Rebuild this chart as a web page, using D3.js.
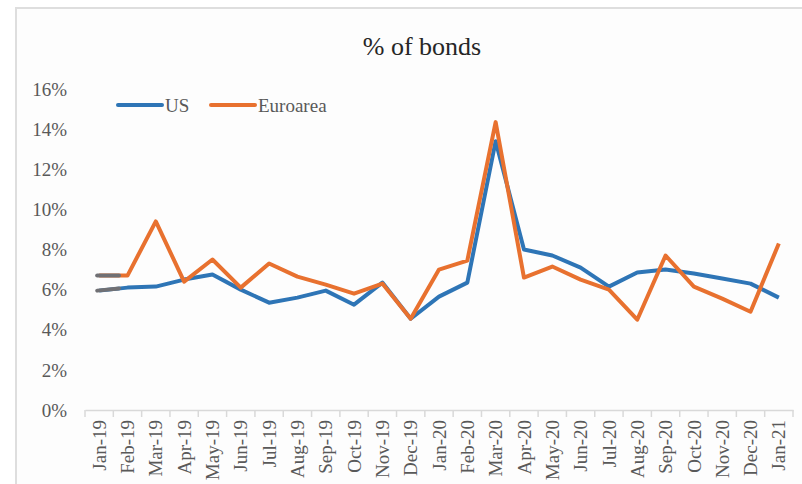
<!DOCTYPE html>
<html>
<head>
<meta charset="utf-8">
<script src="https://cdn.jsdelivr.net/npm/d3@7"></script>
<style>
  body { margin: 0; background: #ffffff; }
  svg text { font-family: "Liberation Serif", "Times New Roman", serif; fill: #595959; }
</style>
</head>
<body>
<div id="chart"></div>
<script>
// months on the x axis
const months = ["Jan-19", "Feb-19", "Mar-19", "Apr-19", "May-19", "Jun-19", "Jul-19", "Aug-19",
    "Sep-19", "Oct-19", "Nov-19", "Dec-19", "Jan-20", "Feb-20", "Mar-20", "Apr-20", "May-20",
    "Jun-20", "Jul-20", "Aug-20", "Sep-20", "Oct-20", "Nov-20", "Dec-20", "Jan-21"];

// % of bonds
const usValues = [5.95, 6.1, 6.15, 6.5, 6.75, 6.0, 5.35, 5.6, 5.95, 5.25, 6.35, 4.55, 5.65,
    6.35, 13.4, 8.0, 7.7, 7.1, 6.15, 6.85, 7.0, 6.8, 6.55, 6.3, 5.6];
const euroValues = [6.7, 6.7, 9.4, 6.4, 7.5, 6.1, 7.3, 6.65, 6.25, 5.8, 6.3, 4.55, 7.0,
    7.45, 14.35, 6.6, 7.15, 6.5, 6.0, 4.5, 7.7, 6.15, 5.55, 4.9, 8.3];

const yTicks = [0, 2, 4, 6, 8, 10, 12, 14, 16];

const series = [
    {name: "US", values: usValues, color: "#2e75b6"},
    {name: "Euroarea", values: euroValues, color: "#e8712f"}
];

const W = 802, H = 484;
const svg = d3.select("#chart").append("svg")
    .attr("width", W)
    .attr("height", H);

// frame of the screenshot
svg.append("rect")
    .attr("x", 16).attr("y", 8)
    .attr("width", W - 14).attr("height", H)
    .attr("fill", "#fdfdfd")
    .attr("stroke", "#dedede")
    .attr("stroke-width", 2);

const xBand = d3.scaleBand()
    .domain(months)
    .range([85, 793]);
const x = d => xBand(d) + xBand.bandwidth() / 2;

const y = d3.scaleLinear()
    .domain([0, 16])
    .range([410, 89]);

// title
svg.append("text")
    .attr("x", 422)
    .attr("y", 55)
    .attr("text-anchor", "middle")
    .attr("font-size", "26px")
    .style("fill", "#262626")
    .text("% of bonds");

// y axis labels (no axis line)
svg.append("g")
    .selectAll("text")
    .data(yTicks)
    .enter()
    .append("text")
    .attr("x", 67)
    .attr("y", d => y(d))
    .attr("dy", "0.35em")
    .attr("text-anchor", "end")
    .attr("font-size", "19px")
    .text(d => d + "%");

// x axis
const xAxis = svg.append("g")
    .attr("transform", "translate(0,410)")
    .call(d3.axisBottom(xBand).tickSize(0).tickSizeOuter(0));

xAxis.select(".domain")
    .attr("stroke", "#d9d9d9")
    .attr("stroke-width", 1.5);

xAxis.selectAll(".tick text")
    .attr("transform", "rotate(-90)")
    .attr("x", -10)
    .attr("y", 0)
    .attr("dy", "0.35em")
    .attr("text-anchor", "end")
    .attr("font-size", "19px")
    .style("font-family", "'Liberation Serif', 'Times New Roman', serif")
    .attr("fill", "#595959");

// tick marks between categories
const boundaries = months.map(m => xBand(m)).concat([xBand.range()[1]]);
xAxis.selectAll(".between")
    .data(boundaries)
    .enter()
    .append("line")
    .attr("class", "between")
    .attr("x1", d => d).attr("x2", d => d)
    .attr("y1", 0).attr("y2", 7)
    .attr("stroke", "#d9d9d9")
    .attr("stroke-width", 1.5);

const line = d3.line()
    .x((d, i) => x(months[i]))
    .y(d => y(d));

series.forEach(s => {
    svg.append("path")
        .datum(s.values)
        .attr("d", line)
        .attr("fill", "none")
        .attr("stroke", s.color)
        .attr("stroke-width", 4)
        .attr("stroke-linejoin", "round");
});

// grey piece at the start of both lines
const step = xBand.bandwidth();
series.forEach(s => {
    const x0 = x(months[0]) - 2, x1 = x(months[0]) + step * 0.7;
    const v0 = s.values[0], v1 = s.values[0] + (s.values[1] - s.values[0]) * 0.7;
    svg.append("line")
        .attr("x1", x0).attr("y1", y(v0))
        .attr("x2", x1).attr("y2", y(v1))
        .attr("stroke", "#707074")
        .attr("stroke-width", 4)
        .attr("stroke-linecap", "round");
});

// legend
const legend = svg.append("g").attr("transform", "translate(118,105)");
const legendX = [0, 93];
series.forEach((s, i) => {
    const g = legend.append("g").attr("transform", `translate(${legendX[i]},0)`);
    g.append("line")
        .attr("x1", 0).attr("x2", 44)
        .attr("y1", 0).attr("y2", 0)
        .attr("stroke", s.color)
        .attr("stroke-width", 4)
        .attr("stroke-linecap", "round");
    g.append("text")
        .attr("x", 47)
        .attr("y", 0)
        .attr("dy", "0.35em")
        .attr("font-size", "19px")
        .text(s.name);
});
</script>
</body>
</html>
